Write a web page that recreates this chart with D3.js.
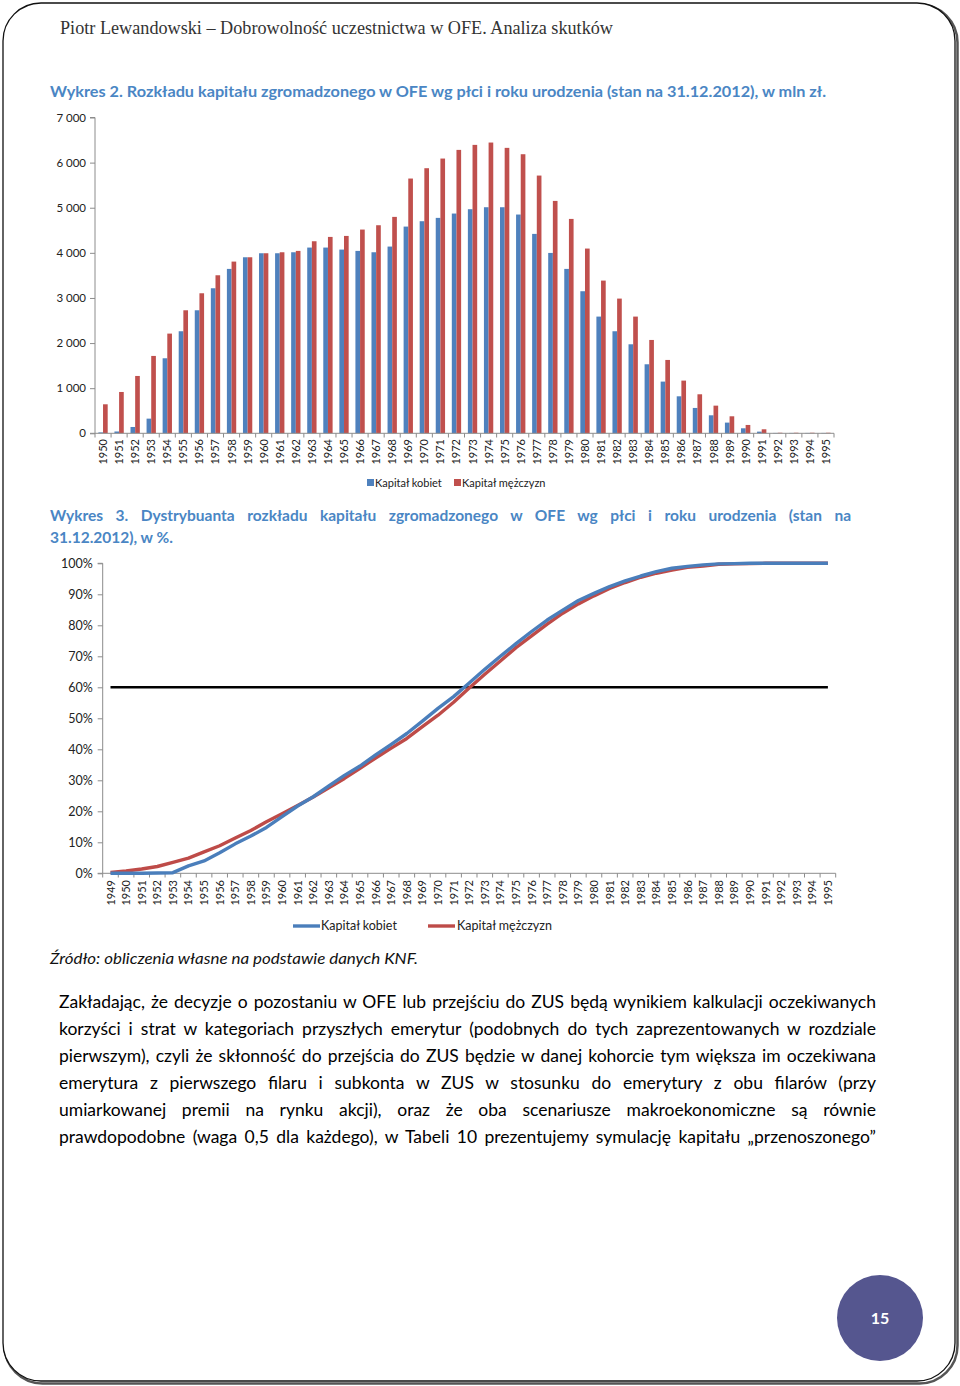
<!DOCTYPE html>
<html><head><meta charset="utf-8">
<script src="https://cdn.jsdelivr.net/npm/d3@7"></script>
<style>body{margin:0;background:#fff}svg{display:block}</style>
</head><body>
<svg id="page" width="960" height="1386"></svg>
<script>
// ---------- DATA ----------
const barYears = ["1950","1951","1952","1953","1954","1955","1956","1957","1958","1959","1960","1961","1962","1963","1964","1965","1966","1967","1968","1969","1970","1971","1972","1973","1974","1975","1976","1977","1978","1979","1980","1981","1982","1983","1984","1985","1986","1987","1988","1989","1990","1991","1992","1993","1994","1995"];
const capWomen = [20,40,140,325,1663,2262,2727,3215,3644,3902,3991,3991,4013,4117,4117,4072,4043,4013,4139,4582,4701,4775,4871,4967,5011,5011,4849,4420,3998,3644,3149,2587,2262,1973,1530,1146,820,562,399,237,111,37,8,8,8,8];
const capMen = [643,916,1271,1715,2210,2727,3104,3503,3806,3902,3991,4013,4043,4257,4353,4375,4516,4612,4797,5647,5876,6090,6282,6393,6445,6327,6186,5713,5151,4752,4095,3385,2986,2587,2069,1626,1168,865,613,377,185,89,12,12,12,12];
const barTicks = [0,1000,2000,3000,4000,5000,6000,7000];

const lineYears = ["1949","1950","1951","1952","1953","1954","1955","1956","1957","1958","1959","1960","1961","1962","1963","1964","1965","1966","1967","1968","1969","1970","1971","1972","1973","1974","1975","1976","1977","1978","1979","1980","1981","1982","1983","1984","1985","1986","1987","1988","1989","1990","1991","1992","1993","1994","1995"];
const cdfWomen = [0,0,0,0.1,0.2,2.4,4.0,6.6,9.5,12.0,14.8,18.3,21.7,24.7,28.2,31.6,34.6,38.2,41.6,45.1,49.1,53.2,57.0,61.4,65.8,70.0,74.1,78.0,81.7,84.9,88.0,90.3,92.5,94.3,95.9,97.3,98.4,99.0,99.5,99.8,99.9,100,100,100,100,100,100];
const cdfMen = [0.3,0.75,1.4,2.2,3.5,4.9,6.9,8.9,11.4,13.8,16.6,19.2,21.9,24.6,27.6,30.6,33.9,37.2,40.4,43.5,47.3,51.0,55.2,59.8,64.2,68.5,72.8,76.6,80.4,83.9,86.9,89.5,91.9,93.8,95.5,96.8,97.8,98.7,99.1,99.7,99.8,99.9,100,100,100,100,100];
const cdfTicks = [0,10,20,30,40,50,60,70,80,90,100];
const threshold = [60];
const seriesNames = ["Kapitał kobiet","Kapitał mężczyzn"];

const headerText = "Piotr Lewandowski – Dobrowolność uczestnictwa w OFE. Analiza skutków";
const title2 = "Wykres 2. Rozkładu kapitału zgromadzonego w OFE wg płci i roku urodzenia (stan na 31.12.2012), w mln zł.";
const title3 = ["Wykres 3. Dystrybuanta rozkładu kapitału zgromadzonego w OFE wg płci i roku urodzenia (stan na","31.12.2012), w %."];
const sourceText = "Źródło: obliczenia własne na podstawie danych KNF.";
const bodyLines = [
 "Zakładając, że decyzje o pozostaniu w OFE lub przejściu do ZUS będą wynikiem kalkulacji oczekiwanych",
 "korzyści i strat w kategoriach przyszłych emerytur (podobnych do tych zaprezentowanych w rozdziale",
 "pierwszym), czyli że skłonność do przejścia do ZUS będzie w danej kohorcie tym większa im oczekiwana",
 "emerytura z pierwszego filaru i subkonta w ZUS w stosunku do emerytury z obu filarów (przy",
 "umiarkowanej premii na rynku akcji), oraz że oba scenariusze makroekonomiczne są równie",
 "prawdopodobne (waga 0,5 dla każdego), w Tabeli 10 prezentujemy symulację kapitału „przenoszonego”"
];
const pageNumber = "15";

// ---------- STYLE ----------
const BLUE = "#4f81bd", RED = "#c0504d", LBLUE = "#4a7ebb", LRED = "#be4b48";
const AXIS = "#8c8c8c", TXT = "#222";
const SANS = "Lato, 'Open Sans', sans-serif";

const svg = d3.select("#page");

// page frame
svg.append("rect").attr("x",4.5).attr("y",4.5).attr("width",953).attr("height",1379).attr("rx",38)
  .attr("fill","none").attr("stroke","#555").attr("stroke-width",2.5);
svg.append("rect").attr("x",3).attr("y",3).attr("width",952).attr("height",1378).attr("rx",38)
  .attr("fill","#fff").attr("stroke","#111").attr("stroke-width",1.3);

function fitText(sel, w, adjust){ sel.attr("textLength", w).attr("lengthAdjust", adjust||"spacingAndGlyphs"); return sel; }

function justify(t, x0, width){
  const node = t.node();
  const nat = node.getComputedTextLength();
  const text = t.text();
  const spaces = (text.match(/ /g)||[]).length;
  if (nat < width && spaces>0) t.attr("word-spacing", (width-nat)/spaces);
  else fitText(t, width);
}

// header
fitText(svg.append("text").attr("x",60).attr("y",34).attr("font-family","'Liberation Serif', serif")
  .attr("font-size",18).attr("fill","#333").text(headerText), 553);

// title 2
fitText(svg.append("text").attr("x",50).attr("y",97).attr("font-family",SANS).attr("font-weight","bold")
  .attr("font-size",15.5).attr("fill","#4a86c4").text(title2), 776);

// ---------- BAR CHART ----------
const bx = d3.scaleBand().domain(barYears).range([95,834]).paddingInner(0.42).paddingOuter(0.21);
const bsub = d3.scaleBand().domain(["w","m"]).range([0,bx.bandwidth()]);
const by = d3.scaleLinear().domain([0,7000]).range([433.3,117.5]);

const bstep = bx.step();
const gb = svg.append("g");
// y axis
const yAxB = d3.axisLeft(by).tickValues(barTicks).tickSize(5).tickPadding(4)
  .tickFormat(d => d3.format(",")(d).replace(/,/g," "));
const gyB = gb.append("g").attr("transform","translate(95,0)").call(yAxB);
gyB.select(".domain").attr("stroke",AXIS).attr("d","M-5,117.5H0V433.3H-5");
gyB.selectAll(".tick line").attr("stroke",AXIS);
gyB.selectAll("text").attr("font-family",SANS).attr("font-size",11.5).attr("fill",TXT);

// bars
const gBars = gb.append("g");
gBars.selectAll(".bw").data(barYears).join("rect")
  .attr("x",d=>bx(d)+bsub("w")).attr("width",bsub.bandwidth())
  .attr("y",(d,i)=>by(capWomen[i])).attr("height",(d,i)=>by(0)-by(capWomen[i])).attr("fill",BLUE);
gBars.selectAll(".bm").data(barYears).join("rect")
  .attr("x",d=>bx(d)+bsub("m")).attr("width",bsub.bandwidth())
  .attr("y",(d,i)=>by(capMen[i])).attr("height",(d,i)=>by(0)-by(capMen[i])).attr("fill",RED);

// x axis
gb.append("line").attr("x1",95).attr("x2",834).attr("y1",433.3).attr("y2",433.3).attr("stroke",AXIS);
gb.selectAll(".xt").data(d3.range(barYears.length+1)).join("line")
  .attr("x1",i=>95+i*bstep).attr("x2",i=>95+i*bstep).attr("y1",433.3).attr("y2",437.5).attr("stroke",AXIS);
gb.selectAll(".xl").data(barYears).join("text")
  .attr("transform",d=>`translate(${bx(d)+bx.bandwidth()/2+4},439) rotate(-90)`)
  .attr("text-anchor","end").attr("font-family",SANS).attr("font-size",11).attr("fill",TXT).text(d=>d);

// legend bars
const lgB = svg.append("g").attr("font-family",SANS).attr("font-size",11).attr("fill",TXT);
lgB.append("rect").attr("x",367).attr("y",479).attr("width",7).attr("height",7).attr("fill",BLUE);
lgB.append("text").attr("x",375).attr("y",487).text(seriesNames[0]);
lgB.append("rect").attr("x",454).attr("y",479).attr("width",7).attr("height",7).attr("fill",RED);
lgB.append("text").attr("x",462).attr("y",487).text(seriesNames[1]);

// title 3
const t3 = svg.append("text").attr("x",50).attr("y",521).attr("font-family",SANS).attr("font-weight","bold")
  .attr("font-size",15.5).attr("fill","#4a86c4").text(title3[0]);
justify(t3, 50, 801);
svg.append("text").attr("x",50).attr("y",543).attr("font-family",SANS).attr("font-weight","bold")
  .attr("font-size",15.5).attr("fill","#4a86c4").text(title3[1]);

// ---------- LINE CHART ----------
const lx = d3.scalePoint().domain(lineYears).range([110.5,827.9]);
const ly = d3.scaleLinear().domain([0,100]).range([873.3,563.3]);
const lstep = (835.7-102.7)/lineYears.length;
const gl = svg.append("g");
const yAxL = d3.axisLeft(ly).tickValues(cdfTicks).tickSize(5).tickPadding(5).tickFormat(d=>d+"%");
const gyL = gl.append("g").attr("transform","translate(102.7,0)").call(yAxL);
gyL.select(".domain").attr("stroke",AXIS).attr("d","M-5,563.3H0V873.3H-5");
gyL.selectAll(".tick line").attr("stroke",AXIS);
gyL.selectAll("text").attr("font-family",SANS).attr("font-size",12.5).attr("fill",TXT);

gl.append("line").attr("x1",102.7).attr("x2",835.7).attr("y1",873.3).attr("y2",873.3).attr("stroke",AXIS);
gl.selectAll(".xt").data(d3.range(lineYears.length+1)).join("line")
  .attr("x1",i=>102.7+i*lstep).attr("x2",i=>102.7+i*lstep).attr("y1",873.3).attr("y2",877.5).attr("stroke",AXIS);
gl.selectAll(".xl").data(lineYears).join("text")
  .attr("transform",d=>`translate(${lx(d)+4},880) rotate(-90)`)
  .attr("text-anchor","end").attr("font-family",SANS).attr("font-size",11).attr("fill",TXT).text(d=>d);

// threshold
gl.append("line").attr("x1",lx(lineYears[0])).attr("x2",lx(lineYears[lineYears.length-1]))
  .attr("y1",ly(threshold[0])).attr("y2",ly(threshold[0])).attr("stroke","#000").attr("stroke-width",2.5);

const line = d3.line().x((d,i)=>lx(lineYears[i])).y(d=>ly(d));
gl.append("path").datum(cdfMen).attr("d",line).attr("fill","none").attr("stroke",LRED).attr("stroke-width",3.4).attr("stroke-linejoin","round");
gl.append("path").datum(cdfWomen).attr("d",line).attr("fill","none").attr("stroke",LBLUE).attr("stroke-width",3.4).attr("stroke-linejoin","round");

// legend lines
const lgL = svg.append("g").attr("font-family",SANS).attr("font-size",12.5).attr("fill",TXT);
lgL.append("line").attr("x1",293).attr("x2",320).attr("y1",926).attr("y2",926).attr("stroke",LBLUE).attr("stroke-width",3.4);
lgL.append("text").attr("x",321).attr("y",930).text(seriesNames[0]);
lgL.append("line").attr("x1",428).attr("x2",455).attr("y1",926).attr("y2",926).attr("stroke",LRED).attr("stroke-width",3.4);
lgL.append("text").attr("x",457).attr("y",930).text(seriesNames[1]);

// source
fitText(svg.append("text").attr("x",50).attr("y",964).attr("font-family",SANS).attr("font-style","italic")
  .attr("font-size",16).attr("fill","#111").text(sourceText), 368);

// body
bodyLines.forEach((s,i)=>{
  const t = svg.append("text").attr("x",59).attr("y",1008+i*27).attr("font-family",SANS)
    .attr("font-size",17.5).attr("fill","#000").text(s);
  justify(t, 59, 817);
});

// page number
svg.append("circle").attr("cx",880).attr("cy",1318).attr("r",43).attr("fill","#55568f");
svg.append("text").attr("x",880).attr("y",1324).attr("text-anchor","middle").attr("font-family",SANS)
  .attr("font-weight","bold").attr("font-size",16).attr("fill","#fff").text(pageNumber);
</script>
</body></html>
